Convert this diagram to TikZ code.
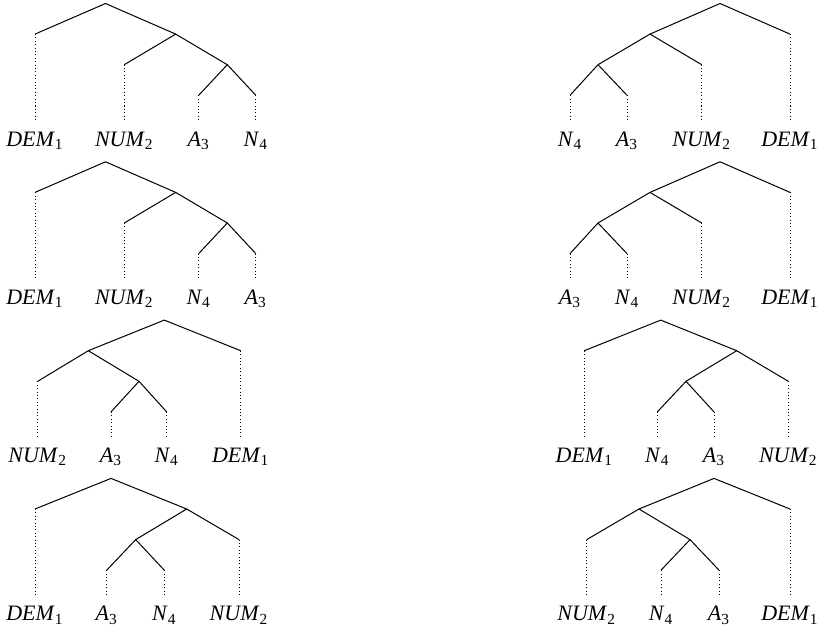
\documentclass[tikz,border=0pt]{standalone}
\usepackage{fontspec}
\setmainfont{Liberation Serif}
\newcommand{\catlab}[2]{\textit{#1}\textsubscript{#2}}
\tikzset{
  branch/.style={line width=0.5pt},
  trace/.style={line width=0.5pt, dash pattern=on 0.5pt off 1.2pt},
  leaf/.style={anchor=base, inner xsep=1pt, inner ysep=4.5pt, font=\fontsize{11}{13}\selectfont}
}
\begin{document}
\begin{tikzpicture}[x=0.5pt, y=-0.5pt]
\useasboundingbox (0,0) rectangle (823,631);
% tree a1: DEM (NUM (A N))
\coordinate (a1r) at (105.5,3.5);
\coordinate (a1p) at (175.7,34.1);
\coordinate (a1q) at (227.3,64.7);
\coordinate (a1t1) at (35,34.1);
\coordinate (a1t2) at (124.3,64.7);
\coordinate (a1t3) at (198.7,95.3);
\coordinate (a1t4) at (255.8,95.3);
\node[leaf] (a1l1) at (35,146) {\catlab{DEM}{1}};
\node[leaf] (a1l2) at (124.3,146) {\catlab{NUM}{2}};
\node[leaf] (a1l3) at (198.7,146) {\catlab{A}{3}};
\node[leaf] (a1l4) at (255.8,146) {\catlab{N}{4}};
\draw[branch] (a1t1) -- (a1r) -- (a1p) -- (a1q) -- (a1t4);
\draw[branch] (a1p) -- (a1t2);
\draw[branch] (a1q) -- (a1t3);
\draw[trace] (a1t1) -- (a1l1.north);
\draw[trace] (a1t2) -- (a1l2.north);
\draw[trace] (a1t3) -- (a1l3.north);
\draw[trace] (a1t4) -- (a1l4.north);
% tree a2: DEM (NUM (N A))
\coordinate (a2r) at (105.5,161.8);
\coordinate (a2p) at (175.7,192.4);
\coordinate (a2q) at (227.3,223);
\coordinate (a2t1) at (35,192.4);
\coordinate (a2t2) at (124.3,223);
\coordinate (a2t3) at (198.7,253.6);
\coordinate (a2t4) at (255.8,253.6);
\node[leaf] (a2l1) at (35,304.3) {\catlab{DEM}{1}};
\node[leaf] (a2l2) at (124.3,304.3) {\catlab{NUM}{2}};
\node[leaf] (a2l3) at (198.7,304.3) {\catlab{N}{4}};
\node[leaf] (a2l4) at (255.8,304.3) {\catlab{A}{3}};
\draw[branch] (a2t1) -- (a2r) -- (a2p) -- (a2q) -- (a2t4);
\draw[branch] (a2p) -- (a2t2);
\draw[branch] (a2q) -- (a2t3);
\draw[trace] (a2t1) -- (a2l1.north);
\draw[trace] (a2t2) -- (a2l2.north);
\draw[trace] (a2t3) -- (a2l3.north);
\draw[trace] (a2t4) -- (a2l4.north);
% tree a3: (NUM (A N)) DEM
\coordinate (a3r) at (164.3,320.1);
\coordinate (a3p) at (88.3,350.7);
\coordinate (a3q) at (139,381.3);
\coordinate (a3t1) at (37.7,381.3);
\coordinate (a3t2) at (111,411.9);
\coordinate (a3t3) at (166.7,411.9);
\coordinate (a3t4) at (240.7,350.7);
\node[leaf] (a3l1) at (37.7,462.6) {\catlab{NUM}{2}};
\node[leaf] (a3l2) at (111,462.6) {\catlab{A}{3}};
\node[leaf] (a3l3) at (166.7,462.6) {\catlab{N}{4}};
\node[leaf] (a3l4) at (240.7,462.6) {\catlab{DEM}{1}};
\draw[branch] (a3t1) -- (a3p) -- (a3r) -- (a3t4);
\draw[branch] (a3p) -- (a3q) -- (a3t3);
\draw[branch] (a3q) -- (a3t2);
\draw[trace] (a3t1) -- (a3l1.north);
\draw[trace] (a3t2) -- (a3l2.north);
\draw[trace] (a3t3) -- (a3l3.north);
\draw[trace] (a3t4) -- (a3l4.north);
% tree a4: DEM ((A N) NUM)
\coordinate (a4r) at (111,478.4);
\coordinate (a4p) at (186.7,509);
\coordinate (a4q) at (135.7,539.6);
\coordinate (a4t1) at (35,509);
\coordinate (a4t2) at (106.7,570.2);
\coordinate (a4t3) at (164.3,570.2);
\coordinate (a4t4) at (239,539.6);
\node[leaf] (a4l1) at (35,620.9) {\catlab{DEM}{1}};
\node[leaf] (a4l2) at (106.7,620.9) {\catlab{A}{3}};
\node[leaf] (a4l3) at (164.3,620.9) {\catlab{N}{4}};
\node[leaf] (a4l4) at (239,620.9) {\catlab{NUM}{2}};
\draw[branch] (a4t1) -- (a4r) -- (a4p) -- (a4t4);
\draw[branch] (a4p) -- (a4q) -- (a4t2);
\draw[branch] (a4q) -- (a4t3);
\draw[trace] (a4t1) -- (a4l1.north);
\draw[trace] (a4t2) -- (a4l2.north);
\draw[trace] (a4t3) -- (a4l3.north);
\draw[trace] (a4t4) -- (a4l4.north);
% tree b1: ((N A) NUM) DEM
\coordinate (b1r) at (720,3.5);
\coordinate (b1p) at (650,34.1);
\coordinate (b1q) at (598,64.7);
\coordinate (b1t1) at (570,95.3);
\coordinate (b1t2) at (627,95.3);
\coordinate (b1t3) at (701.7,64.7);
\coordinate (b1t4) at (790,34.1);
\node[leaf] (b1l1) at (570,146) {\catlab{N}{4}};
\node[leaf] (b1l2) at (627,146) {\catlab{A}{3}};
\node[leaf] (b1l3) at (701.7,146) {\catlab{NUM}{2}};
\node[leaf] (b1l4) at (790,146) {\catlab{DEM}{1}};
\draw[branch] (b1t1) -- (b1q) -- (b1p) -- (b1r) -- (b1t4);
\draw[branch] (b1q) -- (b1t2);
\draw[branch] (b1p) -- (b1t3);
\draw[trace] (b1t1) -- (b1l1.north);
\draw[trace] (b1t2) -- (b1l2.north);
\draw[trace] (b1t3) -- (b1l3.north);
\draw[trace] (b1t4) -- (b1l4.north);
% tree b2: ((A N) NUM) DEM
\coordinate (b2r) at (720,161.8);
\coordinate (b2p) at (650,192.4);
\coordinate (b2q) at (598,223);
\coordinate (b2t1) at (570,253.6);
\coordinate (b2t2) at (627,253.6);
\coordinate (b2t3) at (701.7,223);
\coordinate (b2t4) at (790,192.4);
\node[leaf] (b2l1) at (570,304.3) {\catlab{A}{3}};
\node[leaf] (b2l2) at (627,304.3) {\catlab{N}{4}};
\node[leaf] (b2l3) at (701.7,304.3) {\catlab{NUM}{2}};
\node[leaf] (b2l4) at (790,304.3) {\catlab{DEM}{1}};
\draw[branch] (b2t1) -- (b2q) -- (b2p) -- (b2r) -- (b2t4);
\draw[branch] (b2q) -- (b2t2);
\draw[branch] (b2p) -- (b2t3);
\draw[trace] (b2t1) -- (b2l1.north);
\draw[trace] (b2t2) -- (b2l2.north);
\draw[trace] (b2t3) -- (b2l3.north);
\draw[trace] (b2t4) -- (b2l4.north);
% tree b3: DEM ((N A) NUM)
\coordinate (b3r) at (660.7,320.1);
\coordinate (b3p) at (736.7,350.7);
\coordinate (b3q) at (686,381.3);
\coordinate (b3t1) at (584.3,350.7);
\coordinate (b3t2) at (657.3,411.9);
\coordinate (b3t3) at (714,411.9);
\coordinate (b3t4) at (788.3,381.3);
\node[leaf] (b3l1) at (584.3,462.6) {\catlab{DEM}{1}};
\node[leaf] (b3l2) at (657.3,462.6) {\catlab{N}{4}};
\node[leaf] (b3l3) at (714,462.6) {\catlab{A}{3}};
\node[leaf] (b3l4) at (788.3,462.6) {\catlab{NUM}{2}};
\draw[branch] (b3t1) -- (b3r) -- (b3p) -- (b3t4);
\draw[branch] (b3p) -- (b3q) -- (b3t2);
\draw[branch] (b3q) -- (b3t3);
\draw[trace] (b3t1) -- (b3l1.north);
\draw[trace] (b3t2) -- (b3l2.north);
\draw[trace] (b3t3) -- (b3l3.north);
\draw[trace] (b3t4) -- (b3l4.north);
% tree b4: (NUM (N A)) DEM
\coordinate (b4r) at (714,478.4);
\coordinate (b4p) at (639,509);
\coordinate (b4q) at (690,539.6);
\coordinate (b4t1) at (586.7,539.6);
\coordinate (b4t2) at (661,570.2);
\coordinate (b4t3) at (719,570.2);
\coordinate (b4t4) at (790,509);
\node[leaf] (b4l1) at (586.7,620.9) {\catlab{NUM}{2}};
\node[leaf] (b4l2) at (661,620.9) {\catlab{N}{4}};
\node[leaf] (b4l3) at (719,620.9) {\catlab{A}{3}};
\node[leaf] (b4l4) at (790,620.9) {\catlab{DEM}{1}};
\draw[branch] (b4t1) -- (b4p) -- (b4r) -- (b4t4);
\draw[branch] (b4p) -- (b4q) -- (b4t3);
\draw[branch] (b4q) -- (b4t2);
\draw[trace] (b4t1) -- (b4l1.north);
\draw[trace] (b4t2) -- (b4l2.north);
\draw[trace] (b4t3) -- (b4l3.north);
\draw[trace] (b4t4) -- (b4l4.north);
\end{tikzpicture}
\end{document}
